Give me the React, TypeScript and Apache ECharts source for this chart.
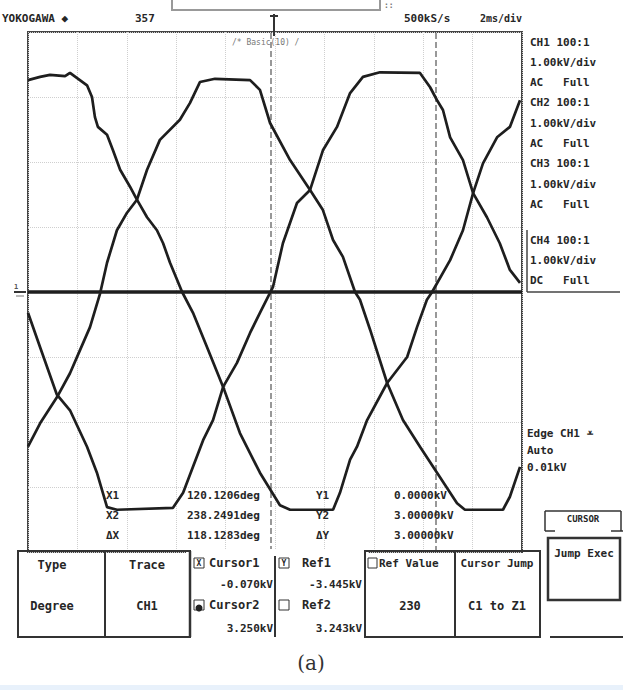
import React, { useEffect, useRef } from "react";
import * as echarts from "echarts";

// time in ms (2 ms/div, 10 div), voltage in kV (1 kV/div)
const waveA: [number, number][] = [
  [0, 3.26], [0.49, 3.31], [0.89, 3.34], [1.5, 3.32], [1.7, 3.37], [2.39, 3.18], [2.59, 3.0], [2.71, 2.69],
  [2.83, 2.54], [3.2, 2.42], [3.44, 2.18], [3.73, 1.88], [4.13, 1.62], [4.41, 1.42], [4.82, 1.15], [5.22, 0.95],
  [5.47, 0.75], [5.75, 0.45], [6.24, 0], [6.68, -0.32], [7.25, -0.85], [7.9, -1.46], [8.58, -2.17], [9.39, -2.78],
  [10.2, -3.28], [10.61, -3.35], [12.35, -3.35], [12.63, -3.09], [13.04, -2.58], [13.32, -2.38], [13.73, -1.97],
  [14.54, -1.4], [15.35, -1.0], [15.75, -0.54], [16.15, -0.12], [16.36, 0], [17.09, 0.49], [17.61, 0.95],
  [18.02, 1.52], [18.42, 1.98], [18.99, 2.38], [19.51, 2.54], [19.92, 2.95],
];
const waveB: [number, number][] = [
  [0, -2.38], [0.49, -2.02], [1.17, -1.62], [1.7, -1.25], [2.11, -0.89], [2.51, -0.54], [2.92, -0.02],
  [3.2, 0.45], [3.6, 0.95], [4.01, 1.22], [4.41, 1.42], [4.82, 1.88], [5.34, 2.34], [6.15, 2.65], [6.56, 2.91],
  [6.96, 3.23], [7.57, 3.28], [8.99, 3.26], [9.39, 3.11], [9.68, 2.75], [9.8, 2.6], [10.61, 2.03], [11.42, 1.57],
  [11.94, 1.26], [12.35, 0.8], [12.75, 0.54], [13.24, 0], [13.44, -0.12], [13.85, -0.58], [14.54, -1.4],
  [15.18, -1.97], [15.87, -2.38], [16.56, -2.78], [17.37, -3.25], [17.69, -3.35], [19.23, -3.35], [19.51, -3.15],
  [19.92, -2.69],
];
const waveC: [number, number][] = [
  [0, -0.32], [0.49, -0.85], [1.17, -1.58], [1.7, -1.82], [2.39, -2.38], [2.79, -2.78], [3.2, -3.31],
  [3.6, -3.35], [5.87, -3.32], [6.28, -3.09], [6.68, -2.69], [7.09, -2.28], [7.49, -1.97], [7.9, -1.46],
  [8.46, -1.09], [8.99, -0.63], [9.39, -0.32], [9.92, 0.08], [10.32, 0.75], [10.89, 1.37], [11.42, 1.57],
  [11.94, 2.18], [12.51, 2.54], [13.04, 3.06], [13.56, 3.31], [14.25, 3.38], [15.87, 3.37], [16.28, 3.15],
  [16.56, 2.95], [16.8, 2.8], [17.09, 2.38], [17.61, 2.03], [18.02, 1.52], [18.58, 1.15], [19.1, 0.75],
  [19.51, 0.34], [19.92, 0.14],
];
const ch4Trace: [number, number][] = [[0, 0], [20, 0]];
const cursorPositions = [9.84, 16.52];

const channelInfo = [
  "CH1 100:1", "1.00kV/div", "AC   Full",
  "CH2 100:1", "1.00kV/div", "AC   Full",
  "CH3 100:1", "1.00kV/div", "AC   Full",
  "CH4 100:1", "1.00kV/div", "DC   Full",
];
const triggerInfo = ["Edge CH1 \u2A61", "Auto", "0.01kV"];
const readLabels = [["X1", "120.1206deg", "Y1", "0.0000kV"], ["X2", "238.2491deg", "Y2", "3.00000kV"], ["\u0394X", "118.1283deg", "\u0394Y", "3.00000kV"]];
const headerTexts = ["YOKOGAWA \u25C6", "357", "500kS/s", "2ms/div"];

const MONO = "'DejaVu Sans Mono', 'Liberation Mono', monospace";
const INK = "#262626";

function t(x: number, y: number, s: string, o: any = {}) {
  return {
    type: "text",
    z: 100,
    x,
    y,
    style: {
      text: s,
      fill: o.fill || INK,
      fontFamily: o.family || MONO,
      fontSize: o.size || 12,
      fontWeight: o.weight || "bold",
      align: o.align || "left",
      verticalAlign: "middle",
    },
  };
}
function ln(x1: number, y1: number, x2: number, y2: number, w = 2, c = "#333") {
  return { type: "line", z: 100, shape: { x1, y1, x2, y2 }, style: { stroke: c, lineWidth: w } };
}
function rc(x: number, y: number, w: number, h: number, fill = "none", stroke = "#333", lw = 2) {
  return { type: "rect", z: 99, shape: { x, y, width: w, height: h }, style: { fill, stroke, lineWidth: lw } };
}

export default function App() {
  const ref = useRef<HTMLDivElement>(null);
  useEffect(() => {
    document.body.style.margin = "0";
    const chart = echarts.init(ref.current!, null, { renderer: "svg" });
    const wave = (name: string, data: [number, number][], w = 2.7) => ({
      name,
      type: "line",
      data,
      showSymbol: false,
      symbol: "none",
      lineStyle: { color: "#1e1e1e", width: w },
      z: 5,
    });
    const graphic: any[] = [];
    // header
    graphic.push(t(2, 18, headerTexts[0], { size: 11 }));
    graphic.push(t(135, 18, headerTexts[1], { size: 11 }));
    graphic.push(t(404, 18, headerTexts[2], { size: 11 }));
    graphic.push(t(480, 18, headerTexts[3], { size: 10 }));
    graphic.push(rc(172, -6, 208, 16, "none", "#999", 2));
    graphic.push(t(384, 5, "::", { size: 8, fill: "#777" }));
    graphic.push(ln(274, 14, 274, 36, 2, "#333"));
    graphic.push(ln(270, 16, 278, 16, 2, "#333"));
    graphic.push(t(232, 42, "/* Basic(10) /", { size: 8, weight: "normal", fill: "#777" }));
    // left ground marker
    graphic.push(t(14, 287, "1", { size: 7, fill: "#555" }));
    graphic.push(ln(14, 292, 26, 292, 2, "#333"));
    graphic.push(ln(16, 296, 24, 296, 1, "#777"));
    // channel info
    channelInfo.forEach((s, i) => {
      const y = i < 9 ? 42 + i * 20.3 : 240 + (i - 9) * 20;
      graphic.push(t(530, y, s, { size: 11 }));
    });
    graphic.push(ln(527, 230, 527, 292, 1.5, "#444"));
    graphic.push(ln(527, 292, 620, 292, 1.5, "#444"));
    triggerInfo.forEach((s, i) => graphic.push(t(527, 433 + i * 17, s, { size: 11 })));
    // readouts
    readLabels.forEach((row, i) => {
      const y = 495 + i * 20;
      graphic.push(t(106, y, row[0], { size: 11 }));
      graphic.push(t(187, y, row[1], { size: 11 }));
      graphic.push(t(316, y, row[2], { size: 11 }));
      graphic.push(t(394, y, row[3], { size: 11 }));
    });
    // softkey panel
    graphic.push({ type: "rect", z: 98, shape: { x: 186, y: 549, width: 182, height: 8 }, style: { fill: "#fff" } });
    graphic.push(rc(18, 551, 87, 86));
    graphic.push(rc(105, 551, 85, 86));
    graphic.push(ln(190, 551, 190, 637, 2.5));
    graphic.push(ln(275, 556, 275, 637, 2));
    graphic.push(rc(365, 551, 90, 86));
    graphic.push(rc(455, 551, 85, 86));
    graphic.push(t(52, 565, "Type", { align: "center" }));
    graphic.push(t(52, 606, "Degree", { align: "center" }));
    graphic.push(t(147, 565, "Trace", { align: "center" }));
    graphic.push(t(147, 606, "CH1", { align: "center" }));
    graphic.push(rc(194, 558, 10, 10, "none", "#333", 1));
    graphic.push(t(199, 563, "X", { size: 8, align: "center" }));
    graphic.push(t(209, 563, "Cursor1"));
    graphic.push(t(273, 584, "-0.070kV", { align: "right", size: 11 }));
    graphic.push(rc(194, 600, 10, 10, "none", "#333", 1));
    graphic.push({ type: "circle", z: 100, shape: { cx: 199, cy: 608, r: 3.5 }, style: { fill: "#222" } });
    graphic.push(t(209, 605, "Cursor2"));
    graphic.push(t(273, 628, "3.250kV", { align: "right", size: 11 }));
    graphic.push(rc(279, 558, 10, 10, "none", "#333", 1));
    graphic.push(t(284, 563, "Y", { size: 8, align: "center" }));
    graphic.push(t(302, 563, "Ref1"));
    graphic.push(t(362, 584, "-3.445kV", { align: "right", size: 11 }));
    graphic.push(rc(279, 600, 10, 10, "none", "#333", 1));
    graphic.push(t(302, 605, "Ref2"));
    graphic.push(t(362, 628, "3.243kV", { align: "right", size: 11 }));
    graphic.push(rc(368, 558, 9, 10, "none", "#333", 1));
    graphic.push(t(379, 563, "Ref Value", { size: 11 }));
    graphic.push(t(410, 606, "230", { align: "center" }));
    graphic.push(t(497, 563, "Cursor Jump", { align: "center", size: 11 }));
    graphic.push(t(497, 606, "C1 to Z1", { align: "center" }));
    graphic.push(ln(545, 511, 621, 511, 1.5));
    graphic.push(ln(545, 511, 545, 531, 1.5));
    graphic.push(ln(621, 511, 621, 531, 1.5));
    graphic.push(t(583, 519, "CURSOR", { size: 9, align: "center" }));
    graphic.push(ln(545, 531, 555, 531, 1.5));
    graphic.push(ln(611, 531, 623, 531, 1.5));
    graphic.push(rc(548, 538, 72, 62, "none", "#333", 2.5));
    graphic.push(t(584, 553, "Jump Exec", { align: "center", size: 11 }));
    graphic.push(ln(550, 637, 623, 637, 2));
    // caption
    graphic.push(t(311, 663, "(a)", { family: "'DejaVu Serif', 'Liberation Serif', serif", size: 20, weight: "normal", align: "center", fill: "#333" }));
    graphic.push({ type: "rect", z: 98, shape: { x: 0, y: 685, width: 623, height: 5 }, style: { fill: "#e8f1fb" } });

    chart.setOption({
      animation: false,
      backgroundColor: "#fff",
      grid: { left: 28, right: 101, top: 32, bottom: 138, show: true, borderColor: "#444", borderWidth: 2 },
      xAxis: {
        type: "value", min: 0, max: 20, interval: 2,
        axisLine: { show: false }, axisTick: { show: false }, axisLabel: { show: false },
        splitLine: { show: true, lineStyle: { type: "dotted", color: "#cfcfcf", width: 1 } },
      },
      yAxis: {
        type: "value", min: -4, max: 4, interval: 1,
        axisLine: { show: false }, axisTick: { show: false }, axisLabel: { show: false },
        splitLine: { show: true, lineStyle: { type: "dotted", color: "#cfcfcf", width: 1 } },
      },
      series: [
        {
          ...wave("CH4", ch4Trace, 3.4),
          markLine: {
            silent: true,
            symbol: "none",
            label: { show: false },
            lineStyle: { type: "dashed", color: "#777", width: 1.5 },
            data: cursorPositions.map((x) => ({ xAxis: x })),
          },
        },
        wave("CH1", waveA),
        wave("CH2", waveB),
        wave("CH3", waveC),
      ],
      graphic,
    });
    return () => chart.dispose();
  }, []);
  return <div ref={ref} style={{ width: 623, height: 690 }} />;
}
